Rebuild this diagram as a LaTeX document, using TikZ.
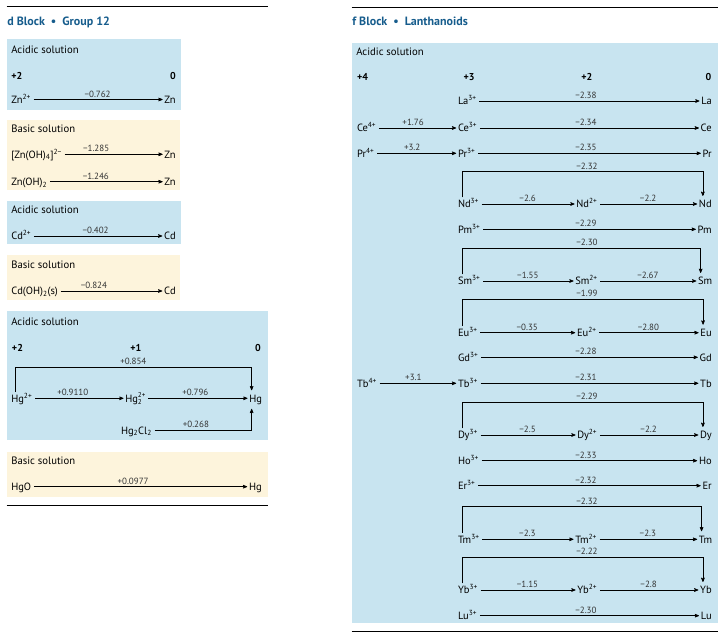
\documentclass[tikz,border=0pt]{standalone}
\usepackage{fontspec}
\setmainfont{PT Sans}
\usetikzlibrary{arrows}
\definecolor{acidblue}{RGB}{200,228,240}
\definecolor{baseyellow}{RGB}{253,244,220}
\definecolor{titleblue}{RGB}{22,92,140}

\begin{document}
\begin{tikzpicture}[x=1pt,y=-1pt,->,>=stealth',shorten >=1.5pt,shorten <=2.5pt,semithick,
    species/.style={font=\fontsize{10.5}{12}\selectfont,anchor=west,inner xsep=0pt,inner ysep=0pt,text height=7.5pt,text depth=0pt},
    value/.style={font=\fontsize{9}{10}\selectfont,text=black!80,inner sep=0pt,above=2pt},
    state/.style={font=\fontsize{10}{11}\selectfont\bfseries,anchor=base west,inner sep=0pt},
    heading/.style={font=\fontsize{10.7}{12}\selectfont,anchor=base west,inner sep=0pt},
    title/.style={font=\fontsize{12}{14}\selectfont\bfseries,text=titleblue,anchor=base west,inner sep=0pt},
    rule/.style={-,shorten >=0pt,shorten <=0pt,line width=1pt},
    bracket/.style={shorten >=4pt}]
  \useasboundingbox (0,0) rectangle (724,642);

  % d block, group 12
  \draw[rule] (6.7,7) -- (268,7);
  \node[title] (dtitle) at (7,25.5) {d Block\enspace\textbullet\enspace Group 12};
  \fill[acidblue] (6.7,39.3) rectangle (181,110);
  \fill[baseyellow] (6.7,120) rectangle (180,190);
  \fill[acidblue] (6.7,201) rectangle (181,244);
  \fill[baseyellow] (6.7,255) rectangle (180,300);
  \fill[acidblue] (6.7,311) rectangle (268,440);
  \fill[baseyellow] (6.7,452.3) rectangle (268,497.3);
  \draw[rule] (6.7,505) -- (268,505);

  % zinc
  \node[heading] (znacid) at (11,54) {Acidic solution};
  \node[state] (znox2) at (11,79.5) {+2};
  \node[state,anchor=base east] (znox0) at (176,79.5) {0};
  \node[species] (zn2) at (11,99.5) {Zn\textsuperscript{2+}};
  \node[species,anchor=east] (zna) at (176,99.5) {Zn};
  \path (zn2) edge node[value] {−0.762} (zna);

  \node[heading] (znbasic) at (11,133) {Basic solution};
  \node[species] (znoh4) at (11,154.3) {[Zn(OH)\textsubscript{4}]\textsuperscript{2−}};
  \node[species,anchor=east] (znb) at (176,154.3) {Zn};
  \node[species] (znoh2) at (11,181.7) {Zn(OH)\textsubscript{2}};
  \node[species,anchor=east] (znc) at (176,181.7) {Zn};
  \path (znoh4) edge node[value,xshift=-17pt] {−1.285} (znb)
        (znoh2) edge node[value,xshift=-10pt] {−1.246} (znc);

  % cadmium
  \node[heading] (cdacid) at (11,213) {Acidic solution};
  \node[species] (cd2) at (11,236) {Cd\textsuperscript{2+}};
  \node[species,anchor=east] (cda) at (176,236) {Cd};
  \path (cd2) edge node[value,xshift=-2pt] {−0.402} (cda);

  \node[heading] (cdbasic) at (11,268) {Basic solution};
  \node[species] (cdoh2) at (11,291) {Cd(OH)\textsubscript{2}(s)};
  \node[species,anchor=east] (cdb) at (176,291) {Cd};
  \path (cdoh2) edge node[value,xshift=-17pt] {−0.824} (cdb);

  % mercury
  \node[heading] (hgacid) at (11,325) {Acidic solution};
  \node[state] (hgox2) at (11.7,351.5) {+2};
  \node[state] (hgox1) at (130,351.5) {+1};
  \node[state,anchor=base east] (hgox0) at (261,351.5) {0};
  \node[species] (hg2) at (11,398.3) {Hg\textsuperscript{2+}};
  \node[species] (hg22) at (125,398.3) {Hg\makebox[0pt][l]{\raisebox{-2.6pt}{\fontsize{7}{8}\selectfont 2}}\raisebox{4.2pt}{\fontsize{7}{8}\selectfont 2+}};
  \node[species,anchor=east] (hga) at (262.3,398.3) {Hg};
  \node[species] (hg2cl2) at (120.7,430.3) {Hg\textsubscript{2}Cl\textsubscript{2}};
  \path (hg2) edge node[value,xshift=-6pt] {+0.9110} (hg22)
        (hg22) edge node[value,xshift=-2pt] {+0.796} (hga);
  \coordinate (hgbar) at (133.3,367.3);
  \draw[bracket] ([xshift=4pt]hg2.north west) |- (hgbar) node[value] {+0.854}
    -| ([xshift=-4pt]hga.north);
  \draw (hg2cl2) -| node[value,pos=0.25,xshift=-6pt] {+0.268} ([xshift=-4pt,yshift=-5pt]hga.south);

  \node[heading] (hgbasic) at (11,464) {Basic solution};
  \node[species] (hgo) at (11,486.7) {HgO};
  \node[species,anchor=east] (hgb) at (262,486.7) {Hg};
  \path (hgo) edge node[value,xshift=-7pt] {+0.0977} (hgb);

  % f block, lanthanoids
  \draw[rule] (351.7,7.3) -- (718,7.3);
  \node[title] (ftitle) at (352,25.5) {f Block\enspace\textbullet\enspace Lanthanoids};
  \fill[acidblue] (351.7,43.3) rectangle (718,623.3);
  \draw[rule] (351.7,631.7) -- (718,631.7);

  \node[heading] (lnacid) at (356,56) {Acidic solution};
  \node[state] (lnox4) at (356.7,80.5) {+4};
  \node[state] (lnox3) at (463.3,80.5) {+3};
  \node[state] (lnox2) at (581,80.5) {+2};
  \node[state,anchor=base east] (lnox0) at (711.7,80.5) {0};

  \node[species] (la3) at (457.7,101) {La\textsuperscript{3+}};
  \node[species,anchor=east] (la) at (712,101) {La};
  \path (la3) edge node[value,xshift=-3pt] {−2.38} (la);

  \node[species] (ce4) at (356.7,128) {Ce\textsuperscript{4+}};
  \node[species] (ce3) at (457.7,128) {Ce\textsuperscript{3+}};
  \node[species,anchor=east] (ce) at (712,128) {Ce};
  \path (ce4) edge node[value,xshift=-4pt] {+1.76} (ce3)
        (ce3) edge node[value,xshift=-3pt] {−2.34} (ce);

  \node[species] (pr4) at (356.7,153.3) {Pr\textsuperscript{4+}};
  \node[species] (pr3) at (457.7,153.3) {Pr\textsuperscript{3+}};
  \node[species,anchor=east] (pr) at (712,153.3) {Pr};
  \path (pr4) edge node[value,xshift=-4pt] {+3.2} (pr3)
        (pr3) edge node[value,xshift=-3pt] {−2.35} (pr);

  \node[species] (nd3) at (457.7,204) {Nd\textsuperscript{3+}};
  \node[species] (nd2) at (576,204) {Nd\textsuperscript{2+}};
  \node[species,anchor=east] (nd) at (712,204) {Nd};
  \path (nd3) edge node[value] {−2.6} (nd2)
        (nd2) edge node[value] {−2.2} (nd);
  \coordinate (ndbar) at (587,171.7);
  \draw[bracket] ([xshift=4.5pt]nd3.north west) |- (ndbar) node[value] {−2.32}
    -| ([xshift=-2.5pt]nd.north);

  \node[species] (pm3) at (457.7,229.3) {Pm\textsuperscript{3+}};
  \node[species,anchor=east] (pm) at (712,229.3) {Pm};
  \path (pm3) edge node[value,xshift=-3pt] {−2.29} (pm);

  \node[species] (sm3) at (457.7,281) {Sm\textsuperscript{3+}};
  \node[species] (sm2) at (575,281) {Sm\textsuperscript{2+}};
  \node[species,anchor=east] (sm) at (712.5,281) {Sm};
  \path (sm3) edge node[value] {−1.55} (sm2)
        (sm2) edge node[value] {−2.67} (sm);
  \coordinate (smbar) at (587,248.3);
  \draw[bracket] ([xshift=4.5pt]sm3.north west) |- (smbar) node[value] {−2.30}
    -| ([xshift=-4.5pt]sm.north);

  \node[species] (eu3) at (457.7,332.7) {Eu\textsuperscript{3+}};
  \node[species] (eu2) at (576.7,332.7) {Eu\textsuperscript{2+}};
  \node[species,anchor=east] (eu) at (712,332.7) {Eu};
  \path (eu3) edge node[value] {−0.35} (eu2)
        (eu2) edge node[value] {−2.80} (eu);
  \coordinate (eubar) at (587,299.3);
  \draw[bracket] ([xshift=4.5pt]eu3.north west) |- (eubar) node[value] {−1.99}
    -| ([xshift=-3pt]eu.north);

  \node[species] (gd3) at (457.7,357.3) {Gd\textsuperscript{3+}};
  \node[species,anchor=east] (gd) at (712,357.3) {Gd};
  \path (gd3) edge node[value,xshift=-3pt] {−2.28} (gd);

  \node[species] (tb4) at (356.7,383.3) {Tb\textsuperscript{4+}};
  \node[species] (tb3) at (457.7,383.3) {Tb\textsuperscript{3+}};
  \node[species,anchor=east] (tb) at (712,383.3) {Tb};
  \path (tb4) edge node[value,xshift=-4pt] {+3.1} (tb3)
        (tb3) edge node[value,xshift=-3pt] {−2.31} (tb);

  \node[species] (dy3) at (457.7,435) {Dy\textsuperscript{3+}};
  \node[species] (dy2) at (577,435) {Dy\textsuperscript{2+}};
  \node[species,anchor=east] (dy) at (712,435) {Dy};
  \path (dy3) edge node[value] {−2.5} (dy2)
        (dy2) edge node[value] {−2.2} (dy);
  \coordinate (dybar) at (587,402.3);
  \draw[bracket] ([xshift=4.5pt]dy3.north west) |- (dybar) node[value] {−2.29}
    -| ([xshift=-3pt]dy.north);

  \node[species] (ho3) at (457.7,460.7) {Ho\textsuperscript{3+}};
  \node[species,anchor=east] (ho) at (712,460.7) {Ho};
  \path (ho3) edge node[value,xshift=-3pt] {−2.33} (ho);

  \node[species] (er3) at (457.7,485.7) {Er\textsuperscript{3+}};
  \node[species,anchor=east] (er) at (712,485.7) {Er};
  \path (er3) edge node[value,xshift=-3pt] {−2.32} (er);

  \node[species] (tm3) at (457.7,539.3) {Tm\textsuperscript{3+}};
  \node[species] (tm2) at (575,539.3) {Tm\textsuperscript{2+}};
  \node[species,anchor=east] (tm) at (712.5,539.3) {Tm};
  \path (tm3) edge node[value] {−2.3} (tm2)
        (tm2) edge node[value] {−2.3} (tm);
  \coordinate (tmbar) at (587,506.7);
  \draw[bracket] ([xshift=4.5pt]tm3.north west) |- (tmbar) node[value] {−2.32}
    -| ([xshift=-4pt]tm.north);

  \node[species] (yb3) at (457.7,590) {Yb\textsuperscript{3+}};
  \node[species] (yb2) at (577,590) {Yb\textsuperscript{2+}};
  \node[species,anchor=east] (yb) at (712,590) {Yb};
  \path (yb3) edge node[value] {−1.15} (yb2)
        (yb2) edge node[value] {−2.8} (yb);
  \coordinate (ybbar) at (587,557.3);
  \draw[bracket] ([xshift=4.5pt]yb3.north west) |- (ybbar) node[value] {−2.22}
    -| ([xshift=-3pt]yb.north);

  \node[species] (lu3) at (457.7,615.7) {Lu\textsuperscript{3+}};
  \node[species,anchor=east] (lu) at (712,615.7) {Lu};
  \path (lu3) edge node[value,xshift=-3pt] {−2.30} (lu);
\end{tikzpicture}
\end{document}
